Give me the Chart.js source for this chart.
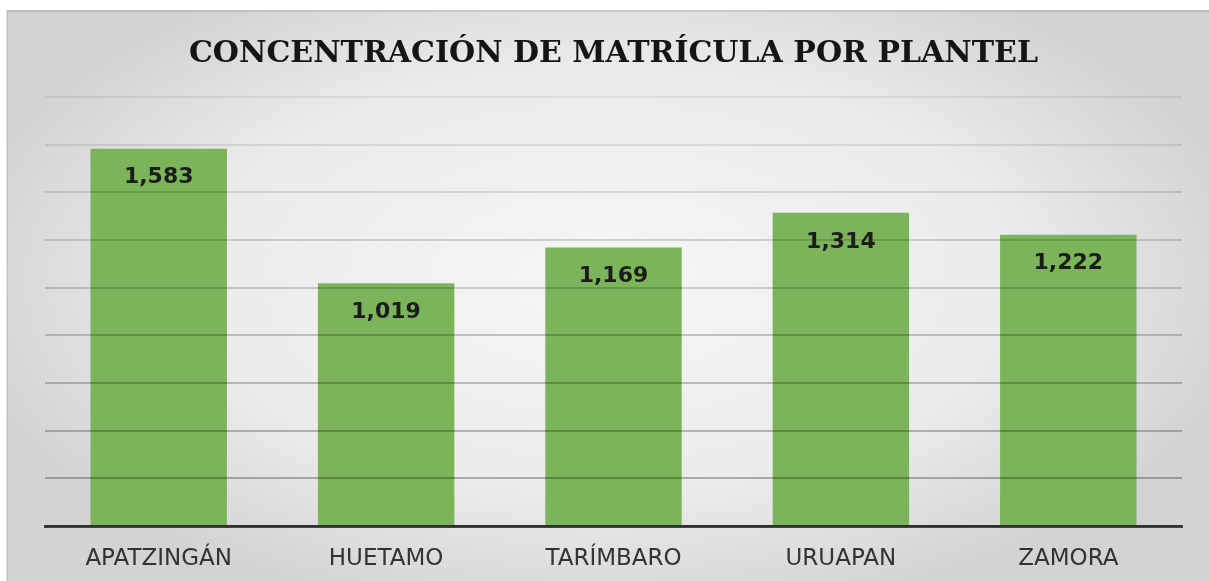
<!DOCTYPE html>
<html>
<head>
<meta charset="utf-8">
<script src="https://cdn.jsdelivr.net/npm/chart.js@4.4.0/dist/chart.umd.min.js"></script>
<style>
  html, body { margin: 0; padding: 0; background: #ffffff; }
  #wrap { width: 1209px; height: 581px; }
</style>
</head>
<body>
<div id="wrap"><canvas id="matriculaChart"></canvas></div>
<script>
const planteles = ['APATZINGÁN', 'HUETAMO', 'TARÍMBARO', 'URUAPAN', 'ZAMORA'];
const matricula = [1583, 1019, 1169, 1314, 1222];
const escalaMax = 1800;
const escalaPaso = 200;
const titulo = 'CONCENTRACIÓN DE MATRÍCULA POR PLANTEL';

// fondo gris con degradado radial, como el original
const fondoPlugin = {
    id: 'fondo',
    beforeDraw(chart) {
        const ctx = chart.ctx;
        const w = chart.width, h = chart.height;
        const cx = w / 2, cy = h / 2 - 10;
        ctx.save();
        ctx.fillStyle = '#ffffff';
        ctx.fillRect(0, 0, w, h);
        ctx.translate(cx, cy);
        ctx.scale(1, 0.52);
        const g = ctx.createRadialGradient(0, 0, 40, 0, 0, 660);
        g.addColorStop(0, '#f5f5f5');
        g.addColorStop(0.6, '#ebebeb');
        g.addColorStop(1, '#d3d3d3');
        ctx.fillStyle = g;
        ctx.fillRect(7 - cx, (10 - cy) / 0.52, w, h / 0.52);
        ctx.restore();
        ctx.save();
        ctx.strokeStyle = 'rgba(0,0,0,0.10)';
        ctx.lineWidth = 2;
        ctx.beginPath();
        ctx.moveTo(7, h);
        ctx.lineTo(7, 11);
        ctx.lineTo(w, 11);
        ctx.stroke();
        ctx.restore();
    }
};

// etiquetas de valor dentro de cada barra
const etiquetasPlugin = {
    id: 'etiquetas',
    afterDraw(chart) {
        const ctx = chart.ctx;
        const meta = chart.getDatasetMeta(0);
        ctx.save();
        ctx.font = 'bold 22px "DejaVu Sans"';
        ctx.fillStyle = '#1c1c1c';
        ctx.textAlign = 'center';
        ctx.textBaseline = 'middle';
        meta.data.forEach((bar, i) => {
            ctx.fillText(matricula[i].toLocaleString('en-US'), bar.x, bar.y + 29);
        });
        ctx.restore();
    }
};

const ctx = document.getElementById('matriculaChart').getContext('2d');
new Chart(ctx, {
    type: 'bar',
    data: {
        labels: planteles,
        datasets: [{
            data: matricula,
            backgroundColor: '#7cb45b',
            borderWidth: 0,
            categoryPercentage: 0.6,
            barPercentage: 1
        }]
    },
    options: {
        responsive: true,
        maintainAspectRatio: false,
        animation: false,
        layout: { padding: { left: 45, right: 27, top: 0, bottom: 0 } },
        plugins: {
            legend: { display: false },
            tooltip: { enabled: false },
            title: {
                display: true,
                text: titulo,
                color: '#151515',
                font: { family: '"DejaVu Serif"', size: 30, weight: 'bold' },
                padding: { top: 36, bottom: 25 }
            }
        },
        scales: {
            x: {
                grid: { display: false, drawTicks: false },
                border: { display: true, color: '#464646', width: 3 },
                ticks: {
                    color: '#333333',
                    font: { family: '"DejaVu Sans"', size: 23 },
                    padding: 19,
                    maxRotation: 0
                },
                afterFit: scale => { scale.height = 55; }
            },
            y: {
                min: 0,
                max: escalaMax,
                ticks: { display: false, stepSize: escalaPaso },
                border: { display: false },
                grid: {
                    z: 1,
                    drawTicks: false,
                    lineWidth: 2,
                    color: c => {
                        const v = c.tick ? c.tick.value : 0;
                        const a = 0.30 - (v / escalaMax) * 0.23;
                        return 'rgba(0,0,0,' + a.toFixed(3) + ')';
                    }
                }
            }
        }
    },
    plugins: [fondoPlugin, etiquetasPlugin]
});
</script>
</body>
</html>
